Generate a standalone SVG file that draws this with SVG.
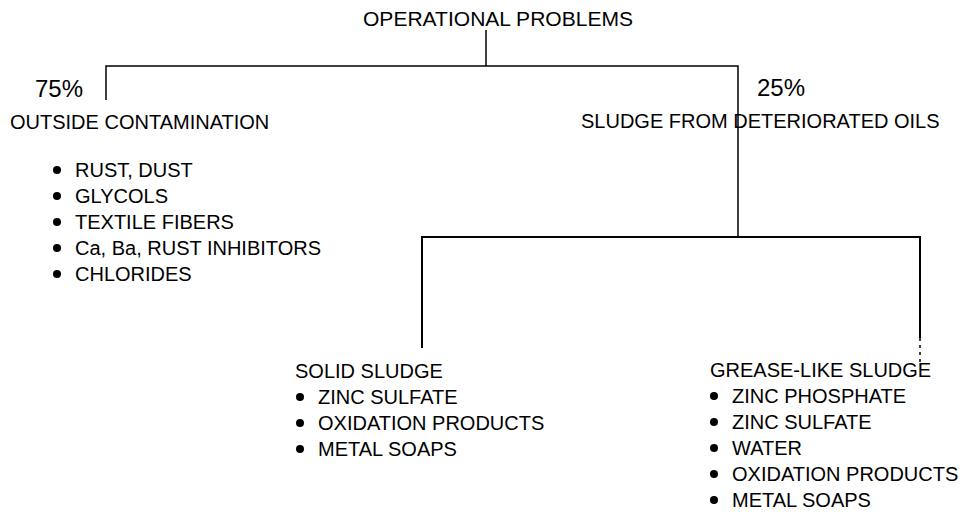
<svg xmlns="http://www.w3.org/2000/svg" width="972" height="515" viewBox="0 0 972 515">
<style>
text{font-family:"Liberation Sans",Arial,sans-serif;font-size:20px;fill:#000}
.pct{font-size:24px}
.ln{stroke:#000;stroke-width:1.5;fill:none}
.bul{fill:#000}
</style>
<rect width="972" height="515" fill="#fff"/>
<g id="connectors">
<path class="ln" d="M486,30 V66"/>
<path class="ln" d="M106,100 V66 H738 V237"/>
<path class="ln" d="M422,348 V237 H920 V338" style="stroke-width:2"/>
<path class="ln" d="M920,338 V362" stroke-dasharray="3 4"/>
</g>
<g id="root"><text x="363" y="26" textLength="270" lengthAdjust="spacingAndGlyphs">OPERATIONAL PROBLEMS</text></g>
<g id="outside">
<text class="pct" x="35" y="97">75%</text>
<text x="10" y="129">OUTSIDE CONTAMINATION</text>
<circle class="bul" cx="57" cy="170" r="4"/><text x="75" y="177">RUST, DUST</text>
<circle class="bul" cx="57" cy="196" r="4"/><text x="75" y="203">GLYCOLS</text>
<circle class="bul" cx="57" cy="222" r="4"/><text x="75" y="229">TEXTILE FIBERS</text>
<circle class="bul" cx="57" cy="248" r="4"/><text x="75" y="255">Ca, Ba, RUST INHIBITORS</text>
<circle class="bul" cx="57" cy="274" r="4"/><text x="75" y="281">CHLORIDES</text>
</g>
<g id="sludge">
<text class="pct" x="757" y="96">25%</text>
<text x="581" y="128">SLUDGE FROM DETERIORATED OILS</text>
</g>
<g id="solid">
<text x="295" y="378">SOLID SLUDGE</text>
<circle class="bul" cx="300" cy="397" r="4"/><text x="318" y="404">ZINC SULFATE</text>
<circle class="bul" cx="300" cy="423" r="4"/><text x="318" y="430">OXIDATION PRODUCTS</text>
<circle class="bul" cx="300" cy="449" r="4"/><text x="318" y="456">METAL SOAPS</text>
</g>
<g id="grease">
<text x="710" y="377">GREASE-LIKE SLUDGE</text>
<circle class="bul" cx="714" cy="396" r="4"/><text x="732" y="403">ZINC PHOSPHATE</text>
<circle class="bul" cx="714" cy="422" r="4"/><text x="732" y="429">ZINC SULFATE</text>
<circle class="bul" cx="714" cy="448" r="4"/><text x="732" y="455">WATER</text>
<circle class="bul" cx="714" cy="474" r="4"/><text x="732" y="481">OXIDATION PRODUCTS</text>
<circle class="bul" cx="714" cy="500" r="4"/><text x="732" y="507">METAL SOAPS</text>
</g>
</svg>
